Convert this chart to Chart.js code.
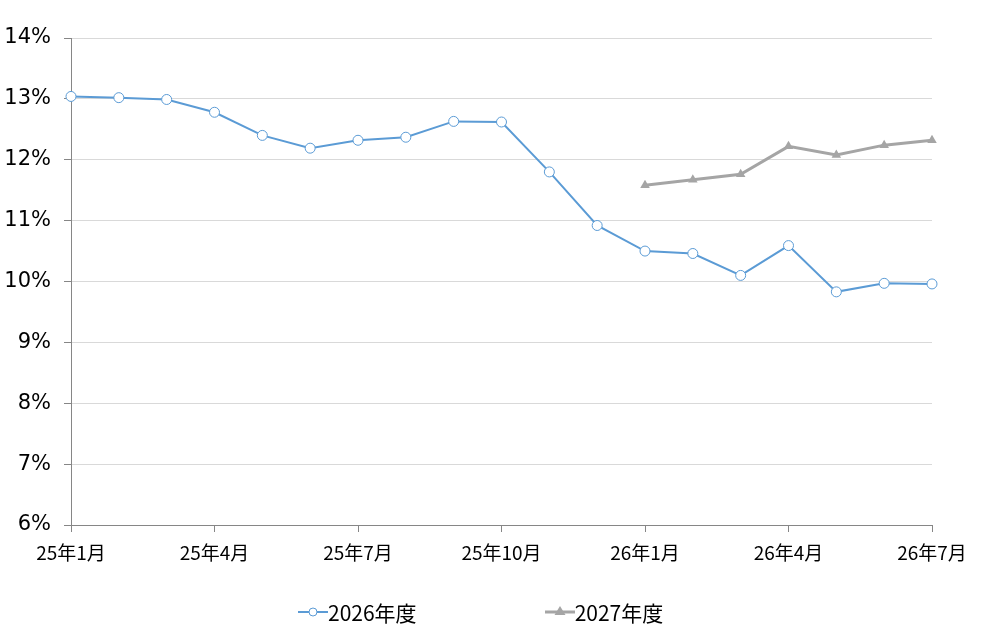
<!DOCTYPE html>
<html>
<head>
<meta charset="utf-8">
<script src="https://cdn.jsdelivr.net/npm/chart.js@4"></script>
<style>
  html, body { margin: 0; padding: 0; background: #fff; }
  #wrap { position: relative; width: 983px; height: 639px; }
  #legend {
    position: absolute; left: 298px; top: 597px;
    display: flex; gap: 128px;
    font-family: "Noto Sans CJK JP", sans-serif; font-size: 21px; color: #000;
  }
  #legend .item { display: flex; align-items: center; }
</style>
</head>
<body>
<div id="wrap">
  <canvas id="chart" width="983" height="639"></canvas>
  <div id="legend"></div>
</div>
<script>
"use strict";

var months = ['25年1月', '25年2月', '25年3月', '25年4月', '25年5月', '25年6月', '25年7月',
  '25年8月', '25年9月', '25年10月', '25年11月', '25年12月', '26年1月', '26年2月',
  '26年3月', '26年4月', '26年5月', '26年6月', '26年7月'];

var fy2026 = [13.04, 13.02, 12.99, 12.78, 12.40, 12.19, 12.32, 12.37, 12.63, 12.62,
  11.80, 10.92, 10.50, 10.46, 10.10, 10.59, 9.83, 9.97, 9.96];

var fy2027 = [null, null, null, null, null, null, null, null, null, null, null, null,
  11.58, 11.67, 11.76, 12.22, 12.08, 12.24, 12.32];

var seriesNames = ['2026年度', '2027年度'];

var blue = '#5b9bd5';
var gray = '#a5a5a5';
var axisColor = '#868686';

var ctx = document.getElementById('chart').getContext('2d');
var chart = new Chart(ctx, {
  type: 'line',
  data: {
    labels: months,
    datasets: [{
      label: seriesNames[0],
      data: fy2026,
      borderColor: blue,
      borderWidth: 2,
      pointStyle: 'circle',
      pointRadius: 5,
      pointBorderWidth: 1,
      pointBackgroundColor: '#fff',
      pointBorderColor: blue,
      tension: 0
    }, {
      label: seriesNames[1],
      data: fy2027,
      borderColor: gray,
      borderWidth: 3,
      pointStyle: 'triangle',
      pointRadius: 5.5,
      pointBorderWidth: 0,
      pointBackgroundColor: gray,
      pointBorderColor: gray,
      tension: 0
    }]
  },
  options: {
    responsive: false,
    animation: false,
    layout: { padding: { top: 38, left: 0, right: 51, bottom: 64 } },
    plugins: {
      legend: { display: false },
      tooltip: { enabled: false }
    },
    scales: {
      x: {
        offset: false,
        border: { color: axisColor, width: 1 },
        grid: { drawOnChartArea: false, drawTicks: true, tickLength: 7, tickColor: axisColor },
        ticks: {
          autoSkip: false,
          maxRotation: 0,
          padding: 9,
          color: '#000',
          font: { family: '"Noto Sans CJK JP", sans-serif', size: 19 },
          callback: function (val, i) {
            return i % 3 === 0 ? months[i] : null;
          }
        },
        afterFit: function (scale) { scale.height = 50; }
      },
      y: {
        min: 6,
        max: 14,
        border: { color: axisColor, width: 1 },
        grid: { color: '#d9d9d9', lineWidth: 1, drawTicks: true, tickLength: 7, tickColor: axisColor },
        ticks: {
          stepSize: 1,
          padding: 13,
          color: '#000',
          font: { family: '"DejaVu Sans", sans-serif', size: 21 },
          callback: function (v) { return v + '%'; }
        },
        afterFit: function (scale) { scale.width = 71; }
      }
    }
  }
});

// legend below the chart, line + marker like the spreadsheet legend
var legendBox = document.getElementById('legend');
chart.data.datasets.forEach(function (ds) {
  var marker = ds.pointStyle === 'triangle'
    ? '<polygon points="15,4 20.5,13 9.5,13" fill="' + ds.borderColor + '"/>'
    : '<circle cx="15" cy="10" r="4" fill="#fff" stroke="' + ds.borderColor + '" stroke-width="1"/>';
  var item = document.createElement('div');
  item.className = 'item';
  item.innerHTML = '<svg width="30" height="20"><line x1="0" y1="10" x2="30" y2="10" stroke="' +
    ds.borderColor + '" stroke-width="' + ds.borderWidth + '"/>' + marker + '</svg><span>' + ds.label + '</span>';
  legendBox.appendChild(item);
});
</script>
</body>
</html>
